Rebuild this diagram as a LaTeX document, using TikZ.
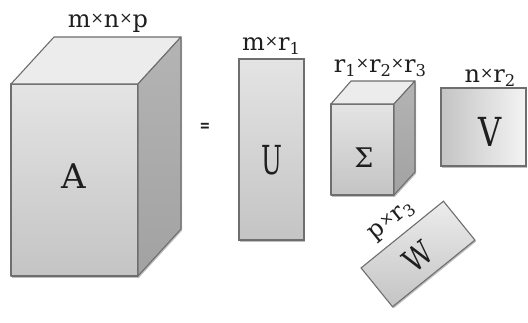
\documentclass[tikz,border=0pt]{standalone}
\usepackage{fontspec}
\setmainfont{DejaVu Serif}
\usetikzlibrary{shadows}
\definecolor{edgegray}{HTML}{6E6E6E}
\definecolor{frontTop}{HTML}{E4E4E4}
\definecolor{frontBot}{HTML}{C4C4C4}
\definecolor{topFace}{HTML}{ECECEC}
\definecolor{sideTop}{HTML}{B4B4B4}
\definecolor{sideBot}{HTML}{A2A2A2}
\definecolor{txt}{HTML}{1E1E1E}
\newcommand{\mytimes}{\raisebox{0.3ex}{\scalebox{0.66}{×}}}
\newcommand{\mysub}[1]{\raisebox{-0.35ex}{\scalebox{0.68}{#1}}}
\tikzset{
  face/.style={draw=edgegray, line width=1.1pt, line join=round},
  frontface/.style={face, top color=frontTop, bottom color=frontBot},
  topface/.style={face, fill=topFace},
  sideface/.style={face, top color=sideTop, bottom color=sideBot},
  shadowed/.style={drop shadow={shadow xshift=1.2pt, shadow yshift=-1.5pt, opacity=0.25, fill=black}},
  dimlabel/.style={inner sep=0pt, anchor=base, text=txt, font=\fontsize{24}{28}\selectfont},
  bigletter/.style={inner sep=0pt, text=txt},
  matbox/.style={draw=edgegray, line width=1.1pt, inner sep=0pt, shadowed}
}
\begin{document}
\begin{tikzpicture}[x=1pt,y=-1pt]
\useasboundingbox (0,0) rectangle (528,322);
\fill[white] (0,0) rectangle (528,322);

% ---- cube A ----
\path[frontface, shadowed] (11,84) rectangle (138,276);
\path[topface] (11,84) -- (54,37) -- (181,37) -- (138,84) -- cycle;
\path[sideface, shadowed] (138,84) -- (181,37) -- (181,229) -- (138,276) -- cycle;
\node[bigletter, font=\fontsize{34}{40}\selectfont] (A) at (74,176) {A};
\node[dimlabel] (Alab) at (108,27) {m\mytimes n\mytimes p};

% ---- equals ----
\node[inner sep=0pt, text=txt, font=\fontsize{17}{20}\selectfont\bfseries] (eq) at (205,127) {\scalebox{0.75}[1]{=}};

% ---- U ----
\node[matbox, top color=frontTop, bottom color=frontBot, minimum width=65pt, minimum height=181pt] (U) at (271.5,149.5) {};
\node[bigletter, font=\fontsize{40}{46}\selectfont] (Ulet) at (272,160) {\scalebox{0.62}[1]{U}};
\node[dimlabel] (Ulab) at (271,50) {m\mytimes r\mysub{1}};

% ---- Sigma cube ----
\path[frontface, shadowed] (331,104) rectangle (394,195);
\path[topface] (331,104) -- (351,81) -- (415,81) -- (394,104) -- cycle;
\path[sideface, shadowed] (394,104) -- (415,81) -- (415,172) -- (394,195) -- cycle;
\node[bigletter, font=\fontsize{27}{32}\selectfont] (S) at (364,158) {Σ};
\node[dimlabel] (Slab) at (380,72) {r\mysub{1}\mytimes r\mysub{2}\mytimes r\mysub{3}};

% ---- V ----
\node[matbox, left color=frontBot, right color=topFace!60!white, minimum width=85pt, minimum height=78pt] (V) at (483.5,127) {};
\node[bigletter, font=\fontsize{40}{46}\selectfont] (Vlet) at (490,132) {\scalebox{0.8}[1]{V}};
\node[dimlabel] (Vlab) at (490,82) {n\mytimes r\mysub{2}};

% ---- W ----
\node[matbox, rotate=39, top color=topFace, bottom color=frontBot, minimum width=106pt, minimum height=50pt] (W) at (418,254) {};
\node[bigletter, rotate=39, font=\fontsize{32}{38}\selectfont] (Wlet) at (418,257) {\scalebox{0.85}[1]{W}};
\node[inner sep=0pt, rotate=39, text=txt, font=\fontsize{24}{28}\selectfont] (Wlab) at (392,221) {p\mytimes r\mysub{3}};
\end{tikzpicture}
\end{document}
